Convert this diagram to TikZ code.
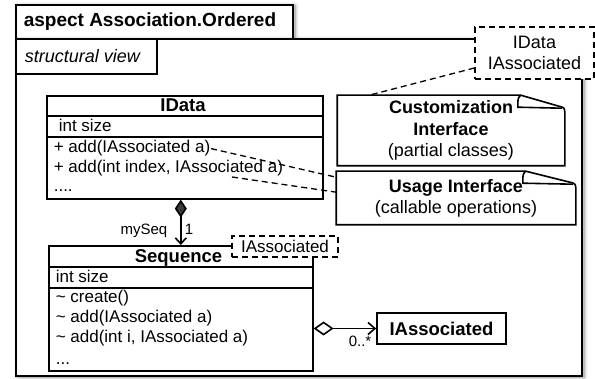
\documentclass[tikz,border=0pt]{standalone}
\usepackage{fontspec}
\setmainfont{Liberation Sans}
\usetikzlibrary{arrows.meta,calc,shadows.blur}

% Font sizes used in the diagram
\newcommand\titlefont{\fontsize{19}{22}\selectfont\bfseries}
\newcommand\umlfont{\fontsize{17}{20}\selectfont}
\newcommand\notefont{\fontsize{18}{21.3}\selectfont}
\newcommand\rolefont{\fontsize{15}{17}\selectfont}

% Note outline with a folded top right corner (#1 = node, #2 = fold width)
\newcommand\drawnote[2]{%
  \draw (#1.north west) -- ([xshift=-#2pt]#1.north east)
    -- ([xshift=-6pt,yshift=-11pt]#1.north east)
    .. controls ([xshift=-1pt,yshift=-12pt]#1.north east) and ([yshift=-13pt]#1.north east) .. ([yshift=-17pt]#1.north east)
    -- (#1.south east) -- (#1.south west) -- cycle;
  \draw ([xshift=-#2pt]#1.north east)
    .. controls ([xshift=-#2pt-3pt,yshift=-3pt]#1.north east) .. ([xshift=-#2pt-3pt,yshift=-12pt]#1.north east)
    -- ([xshift=-3pt,yshift=-13pt]#1.north east);
}

\tikzset{
  frameshadow/.style={blur shadow={shadow xshift=2pt, shadow yshift=-1pt,
      shadow blur radius=4pt, shadow blur steps=8, shadow opacity=45}},
  umlbox/.style={draw, fill=white, inner sep=0pt, anchor=north west},
  tplbox/.style={draw, dash pattern=on 6pt off 4pt, line width=1.3pt, fill=white,
      inner sep=0pt, align=center, font=\notefont},
  notebox/.style={inner sep=0pt, align=center, font=\notefont},
  classname/.style={anchor=base, inner sep=0pt, font=\fontsize{18.5}{21}\selectfont\bfseries},
  member/.style={anchor=base west, inner sep=0pt, font=\umlfont},
  role/.style={inner sep=0pt, font=\rolefont},
  dashlink/.style={dash pattern=on 6pt off 4pt, line width=1.3pt},
}

\begin{document}
\begin{tikzpicture}[x=1pt, y=-1pt, line width=1.6pt]

    \useasboundingbox (0,0) rectangle (595,379);

    % Aspect frame with its name tab
    \draw[fill=white, frameshadow] (16,5) rectangle (293,39);
    \draw[fill=white, frameshadow] (16,39) rectangle (582,376);
    \node[anchor=base west, inner sep=0pt, font=\titlefont] (aspname) at (23,27) {aspect Association.Ordered};

    % View tab
    \draw (16,39) rectangle (157,74);
    \node[anchor=base west, inner sep=0pt, font=\notefont\itshape] (viewname) at (24,63) {structural view};

    % Template parameters of the aspect
    \node[tplbox, minimum width=119, minimum height=52] (params) at (534.5,53) {IData\\IAssociated};

    % Notes on the right
    \node[notebox, minimum width=226, minimum height=69] (custnote) at (451,130.5)
        {\textbf{Customization}\\\textbf{Interface}\\(partial classes)};
    \drawnote{custnote}{44}
    \node[notebox, minimum width=238, minimum height=52] (usagenote) at (456,198)
        {\textbf{Usage Interface}\\(callable operations)};
    \drawnote{usagenote}{50}

    % Class IData
    \node[umlbox, minimum width=276, minimum height=103] (idata) at (46,95) {};
    \draw ($(idata.north west)+(0,21)$) -- ($(idata.north east)+(0,21)$);
    \draw ($(idata.north west)+(0,42)$) -- ($(idata.north east)+(0,42)$);
    \node[classname] (idataname) at (183,112) {IData};
    \node[member] (idatasize) at (58,132) {int size};
    \node[member] (idataop1) at (53,153) {+ add(IAssociated a)};
    \node[member] (idataop2) at (53,173) {+ add(int index, IAssociated a)};
    \node[member] (idatamore) at (53,192) {....};

    % Class Sequence
    \node[umlbox, minimum width=264, minimum height=125] (seq) at (48,245) {};
    \draw ($(seq.north west)+(0,22)$) -- ($(seq.north east)+(0,22)$);
    \draw ($(seq.north west)+(0,43)$) -- ($(seq.north east)+(0,43)$);
    \node[classname] (seqname) at (178.5,263) {Sequence};
    \node[member] (seqsize) at (55,283) {int size};
    \node[member] (seqop1) at (55,303) {\textasciitilde\ create()};
    \node[member] (seqop2) at (55,323) {\textasciitilde\ add(IAssociated a)};
    \node[member] (seqop3) at (55,343) {\textasciitilde\ add(int i, IAssociated a)};
    \node[member] (seqmore) at (55,365) {...};
    \node[tplbox, font=\umlfont, minimum width=106, minimum height=21] (seqparam) at (285,246.5) {IAssociated};

    % Class IAssociated
    \node[draw, fill=white, inner sep=0pt, minimum width=129, minimum height=31,
        font=\fontsize{18.5}{21}\selectfont\bfseries] (iassoc) at (441.5,328.5) {IAssociated};

    % Composition IData -> Sequence
    \draw[{Diamond[length=18pt,width=12pt]}-{Straight Barb[length=6pt,width=11pt]}]
        (seq.north |- idata.south) -- (seq.north);
    \node[role, anchor=base east] (seqrole) at (168,235) {mySeq};
    \node[role, anchor=base west] (seqmult) at (184,235) {1};

    % Aggregation Sequence -> IAssociated
    \draw[{Diamond[open,length=20pt,width=14pt]}-{Straight Barb[length=7pt,width=12pt]}]
        (seq.east |- iassoc.west) -- (iassoc.west);
    \node[role, anchor=base west] (assocmult) at (348,347) {0..*};

    % Dashed links to the notes
    \coordinate (op2link) at (232,177);
    \draw[dashlink] ([yshift=-15pt]params.west) -- ([xshift=32pt]custnote.north west);
    \draw[dashlink] (idataop1.east) -- ([yshift=-6pt]usagenote.north west);
    \draw[dashlink] (op2link) -- ([yshift=-21pt]usagenote.north west);

\end{tikzpicture}
\end{document}
